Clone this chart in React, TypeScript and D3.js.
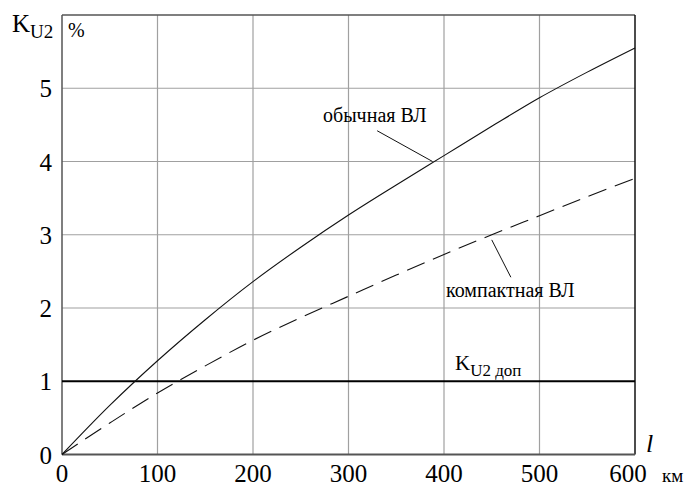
import { useRef, useEffect } from "react";
import * as d3 from "d3";

// line length, km
const lengths = [0, 50, 100, 150, 200, 250, 300, 350, 400, 450, 500, 550, 600];
// K_U2, % - ordinary line
const ordinary = [0, 0.67, 1.28, 1.84, 2.36, 2.83, 3.27, 3.68, 4.08, 4.48, 4.87, 5.22, 5.55];
// K_U2, % - compact line
const compact = [0, 0.43, 0.84, 1.21, 1.56, 1.87, 2.16, 2.45, 2.73, 3.0, 3.26, 3.52, 3.77];

const xTicks = [0, 100, 200, 300, 400, 500, 600];
const yTicks = [0, 1, 2, 3, 4, 5];
const allowed = 1; // K_U2 доп

// leader lines, in data units: [from, to]
const ordinaryLeader = [[330, 4.42], [388, 4.0]];
const compactLeader = [[450, 2.93], [470, 2.42]];

const FONT = "Liberation Serif";

function App() {
  const svgRef = useRef(null);

  useEffect(() => {
    document.body.style.margin = "0";
    const w = 693;
    const h = 486;
    const svg = d3.select(svgRef.current).attr("width", w).attr("height", h);
    svg.selectAll("*").remove();

    const x = d3.scaleLinear().domain([0, 600]).range([62, 635]);
    const y = d3.scaleLinear().domain([0, 6]).range([454.5, 15]);

    const txt = (size) =>
      svg.append("text")
        .attr("font-family", FONT)
        .style("font-family", FONT)
        .style("font-size", size + "px");

    // grid
    svg.append("g")
      .selectAll("line")
      .data(xTicks.slice(1, -1))
      .join("line")
      .attr("x1", (d) => x(d)).attr("x2", (d) => x(d))
      .attr("y1", y(6)).attr("y2", y(0))
      .attr("stroke", "#a0a0a0").attr("stroke-width", 1.2);
    svg.append("g")
      .selectAll("line")
      .data(yTicks.slice(2))
      .join("line")
      .attr("x1", x(0)).attr("x2", x(600))
      .attr("y1", (d) => y(d)).attr("y2", (d) => y(d))
      .attr("stroke", "#a0a0a0").attr("stroke-width", 1.2);

    // frame
    svg.append("line").attr("x1", x(0)).attr("x2", x(600)).attr("y1", y(6)).attr("y2", y(6))
      .attr("stroke", "#555").attr("stroke-width", 1.5);
    svg.append("line").attr("x1", x(0)).attr("x2", x(0)).attr("y1", y(6)).attr("y2", y(0))
      .attr("stroke", "#555").attr("stroke-width", 1.5);
    svg.append("line").attr("x1", x(600)).attr("x2", x(600)).attr("y1", y(6)).attr("y2", y(0))
      .attr("stroke", "#111").attr("stroke-width", 1.5);
    svg.append("line").attr("x1", x(0)).attr("x2", x(600)).attr("y1", y(0)).attr("y2", y(0))
      .attr("stroke", "#555").attr("stroke-width", 2);

    // allowed level
    svg.append("line").attr("x1", x(0)).attr("x2", x(600)).attr("y1", y(allowed)).attr("y2", y(allowed))
      .attr("stroke", "#000").attr("stroke-width", 2.2);

    // curves
    const line = d3.line()
      .x((d) => x(d[0]))
      .y((d) => y(d[1]))
      .curve(d3.curveCatmullRom);
    svg.append("path")
      .attr("d", line(lengths.map((l, i) => [l, ordinary[i]])))
      .attr("fill", "none").attr("stroke", "#111").attr("stroke-width", 1.1);
    svg.append("path")
      .attr("d", line(lengths.map((l, i) => [l, compact[i]])))
      .attr("fill", "none").attr("stroke", "#111").attr("stroke-width", 1.1)
      .attr("stroke-dasharray", "19 9");

    // leaders
    [ordinaryLeader, compactLeader].forEach((seg) => {
      svg.append("line")
        .attr("x1", x(seg[0][0])).attr("y1", y(seg[0][1]))
        .attr("x2", x(seg[1][0])).attr("y2", y(seg[1][1]))
        .attr("stroke", "#111").attr("stroke-width", 1);
    });

    // tick labels
    yTicks.forEach((d) => {
      txt(25).attr("x", 52).attr("y", y(d) + 9).attr("text-anchor", "end").text(d);
    });
    xTicks.forEach((d) => {
      txt(25).attr("x", d === 600 ? x(d) - 7 : x(d)).attr("y", 482)
        .attr("text-anchor", "middle").text(d);
    });

    // axis titles
    const yt = txt(25).attr("x", 12).attr("y", 32);
    yt.append("tspan").text("K");
    yt.append("tspan").style("font-size", "19px").attr("dy", 6).text("U2");
    txt(20).attr("x", 68).attr("y", 37).text("%");

    txt(26).attr("x", 646).attr("y", 452).style("font-style", "italic").text("l");
    txt(19).attr("x", 662).attr("y", 482).text("км");

    // series labels
    txt(20).attr("x", 323).attr("y", 122).text("обычная ВЛ");
    txt(20).attr("x", 446).attr("y", 297).text("компактная ВЛ");

    const kt = txt(21).attr("x", 455).attr("y", 370);
    kt.append("tspan").text("K");
    kt.append("tspan").style("font-size", "17px").attr("dy", 6).text("U2 доп");
  }, []);

  return <svg ref={svgRef} style={{ display: "block", fontFamily: FONT }}></svg>;
}

export default App;
